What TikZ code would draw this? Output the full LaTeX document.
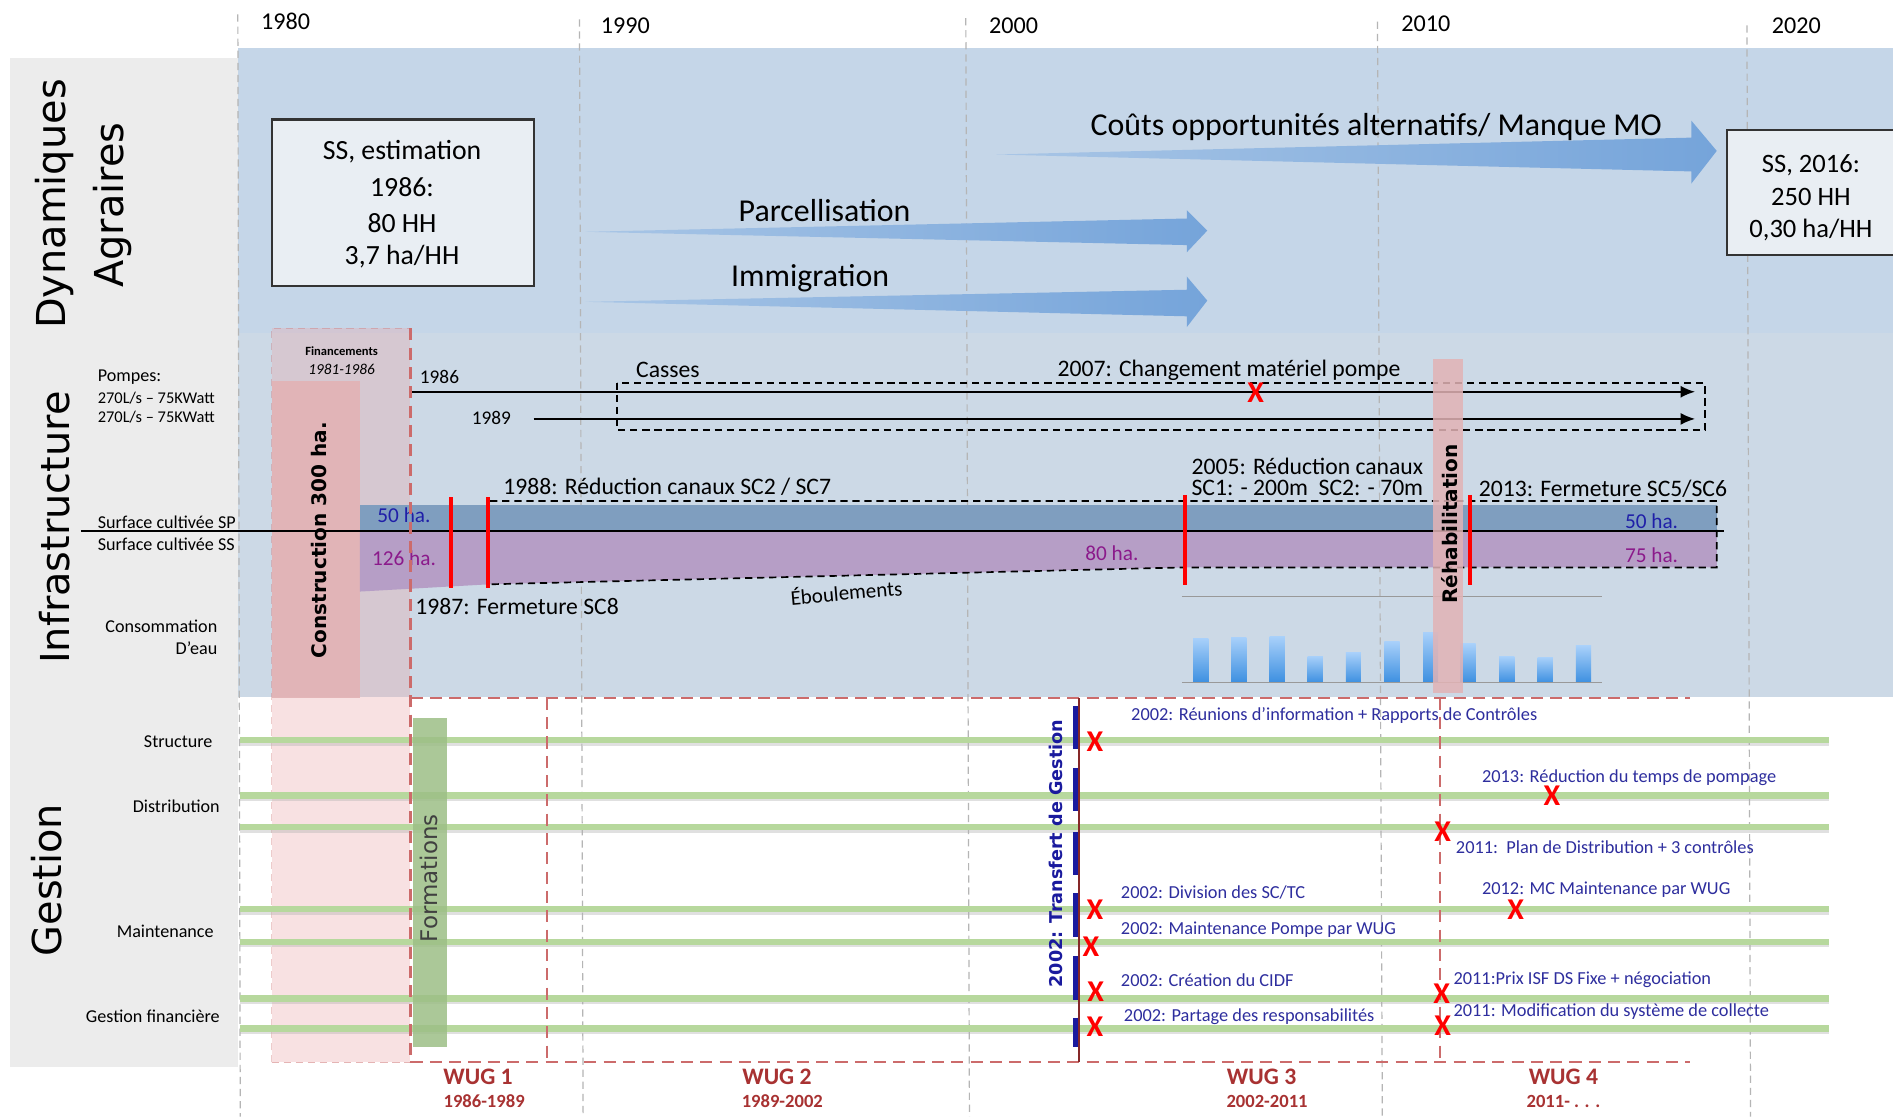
\documentclass[tikz,border=0pt]{standalone}
\usepackage{fontspec}
\setmainfont{Carlito}
\newfontfamily\gothic{DejaVu Sans}
\usetikzlibrary{arrows.meta}

\definecolor{bgtop}{HTML}{C5D6E8}
\definecolor{bgmid}{HTML}{CCD9E6}
\definecolor{panel}{HTML}{ECECEC}
\definecolor{gridc}{HTML}{B5B5B5}
\definecolor{arrowblue}{HTML}{75A4DA}
\definecolor{arrowlight}{HTML}{A9C6E6}
\definecolor{boxfill}{HTML}{E9EEF3}
\definecolor{boxline}{HTML}{333333}
\definecolor{pinkc}{HTML}{E2B3B5}
\definecolor{pinklight}{HTML}{EBAAAC}
\definecolor{spband}{HTML}{7F9EBF}
\definecolor{ssband}{HTML}{B69EC6}
\definecolor{spblue}{HTML}{1F1FA8}
\definecolor{sspurple}{HTML}{8B1A8B}
\definecolor{greenline}{HTML}{B7D89D}
\definecolor{formgreen}{HTML}{9DBF86}
\definecolor{wugred}{HTML}{CC6B6B}
\definecolor{wugtext}{HTML}{A83232}
\definecolor{annblue}{HTML}{2E2E9E}
\definecolor{trblue}{HTML}{1A1A9E}
\definecolor{bartop}{HTML}{A8D0FA}
\definecolor{barbot}{HTML}{3C8FE0}

\begin{document}
\begin{tikzpicture}[x=0.5pt,y=-0.5pt,
  every node/.style={inner sep=0pt, outer sep=0pt},
  yr/.style={font=\fontsize{10}{12}\selectfont},
  sect/.style={font=\gothic\fontsize{16.5}{19}\selectfont, rotate=90},
  boxt/.style={font=\fontsize{11.5}{14}\selectfont},
  arrt/.style={font=\fontsize{13.2}{16}\selectfont},
  evt/.style={font=\fontsize{9.8}{12}\selectfont},
  sidelbl/.style={font=\fontsize{7.5}{9}\selectfont},
  pumplbl/.style={font=\fontsize{6.8}{8}\selectfont, anchor=west},
  halbl/.style={font=\fontsize{8.8}{10}\selectfont},
  ann/.style={font=\fontsize{7.6}{9}\selectfont, text=annblue, anchor=west},
  xmark/.style={font=\bfseries\fontsize{12.5}{14}\selectfont, text=red},
  wugl/.style={font=\bfseries\fontsize{9.8}{12}\selectfont, text=wugtext},
  wugy/.style={font=\bfseries\fontsize{7.7}{9}\selectfont, text=wugtext},
  gridl/.style={gridc, dash pattern=on 3pt off 2pt, line width=0.5pt},
  redbar/.style={red, line width=1.6pt},
  bandedge/.style={black, dash pattern=on 3pt off 2pt, line width=0.7pt},
  wugline/.style={wugred, dash pattern=on 5pt off 3pt, line width=0.9pt},
  gline/.style={greenline, line width=2.6pt},
  gshadow/.style={black!30, line width=2.6pt, opacity=0.4},
  trbar/.style={trblue, line width=2pt},
  pumpline/.style={black, line width=0.7pt, -{Latex[length=6pt,width=5pt]}},
  cbar/.style={top color=bartop, bottom color=barbot, draw=none},
  flow/.style={left color=arrowlight, right color=arrowblue, draw=none},
]
\useasboundingbox (0,0) rectangle (1568,925);
\fill[white] (0,0) rectangle (1568,925);

% ---------- backgrounds ----------
\fill[panel] (8,48) rectangle (197,884);
\fill[bgtop] (197,40) rectangle (1568,276);
\fill[bgmid] (197,276) rectangle (1568,577);

% ---------- decade grid ----------
\draw[gridl] (197,12) -- (199,925);
\draw[gridl] (480,16) -- (483,925);
\draw[gridl] (800,15) -- (803,925);
\draw[gridl] (1141,18) -- (1145,925);
\draw[gridl] (1447,21) -- (1450,925);
\node[yr] (y1980) at (236.5,18) {1980};
\node[yr] (y1990) at (518,21) {1990};
\node[yr] (y2000) at (839.5,21.5) {2000};
\node[yr] (y2010) at (1181,20) {2010};
\node[yr] (y2020) at (1488,21.5) {2020};

% ---------- section titles ----------
\node[sect] (tdyn) at (45,169) {Dynamiques};
\node[sect] (tagr) at (93,170) {Agraires};
\node[sect] (tinf) at (45,437) {Infrastructure};
\node[sect] (tges) at (39,729) {Gestion};

% ---------- agrarian dynamics ----------
\node[draw=boxline, fill=boxfill, line width=0.9pt, minimum width=108.25pt, minimum height=69pt] (ss86) at (333.75,168) {};
\node[boxt] (ss86a) at (333,126) {SS, estimation};
\node[boxt] (ss86b) at (333,154.6) {1986:};
\node[boxt] (ss86c) at (333,185) {80 HH};
\node[boxt] (ss86d) at (333,212.6) {3,7 ha/HH};

\fill[boxfill] (1430.5,108) rectangle (1568,211);
\draw[boxline, line width=0.9pt] (1568,108) -- (1430.5,108) -- (1430.5,211) -- (1568,211);
\node[boxt, font=\fontsize{11}{13}\selectfont] (ss16a) at (1500,136.7) {SS, 2016:};
\node[boxt, font=\fontsize{11}{13}\selectfont] (ss16b) at (1500,163) {250 HH};
\node[boxt, font=\fontsize{11}{13}\selectfont] (ss16c) at (1500,190.5) {0,30 ha/HH};

\path[flow] (825,128) -- (1401,114) -- (1401,100) -- (1422,125) -- (1401,152) -- (1401,142) -- cycle;
\path[flow] (485,192) -- (983,181) -- (983,174) -- (1000,191) -- (983,209) -- (983,203) -- cycle;
\path[flow] (485,250) -- (983,240) -- (983,229) -- (1000,249) -- (983,271) -- (983,262) -- cycle;
\node[arrt] (tcouts) at (1140,105) {Coûts opportunités alternatifs/ Manque MO};
\node[arrt] (tparc) at (683,174.5) {Parcellisation};
\node[arrt] (timm) at (671,230.5) {Immigration};

% ---------- funding / construction column ----------
\fill[pinklight, opacity=0.35] (225,272) rectangle (340,880);
\draw[wugred, opacity=0.35, dash pattern=on 3pt off 2pt, line width=0.6pt] (225,880) -- (225,272) -- (340,272);
\draw[wugred, opacity=0.5, dash pattern=on 3pt off 2pt, line width=0.6pt] (225,880) -- (340,880);
\fill[pinkc, opacity=0.92] (225,316) rectangle (298,578);
\node[font=\bfseries\fontsize{5.2}{6}\selectfont] (tfin) at (283,290.5) {Financements};
\node[font=\itshape\fontsize{6.3}{7}\selectfont] (tfiny) at (283,305.6) {1981-1986};
\node[font=\gothic\bfseries\fontsize{8.3}{10}\selectfont, rotate=90] (tcons) at (264,447.5) {Construction 300 ha.};

% ---------- pumps ----------
\node[pumplbl, font=\fontsize{7.5}{9}\selectfont] (tpomp) at (81,312) {Pompes:};
\node[pumplbl] (tp1) at (81,329.4) {270L/s – 75KWatt};
\node[pumplbl] (tp2) at (81,345.6) {270L/s – 75KWatt};
\node[font=\fontsize{8}{10}\selectfont] (t1986) at (364,312) {1986};
\node[font=\fontsize{8}{10}\selectfont] (t1989) at (407,346) {1989};
\coordinate (p1s) at (340,324.5);
\coordinate (p1e) at (1404,324.5);
\coordinate (p2s) at (442,347);
\coordinate (p2e) at (1404,347);
\draw[pumpline] (p1s) -- (p1e);
\draw[pumpline] (p2s) -- (p2e);
\draw[bandedge] (511,317) rectangle (1412,356);
\node[evt, anchor=west] (tcasses) at (527,306.5) {Casses};
\node[evt, anchor=west] (t2007) at (876,306.5) {2007: Changement matériel pompe};
\node[xmark] (xpump) at (1040,325) {X};

% ---------- cultivated surfaces ----------
\fill[spband] (298,418) rectangle (1422,440);
\fill[ssband] (298,440) -- (1422,440) -- (1422,470) -- (980,470) -- (405,484) -- (298,490) -- cycle;
\draw[bandedge] (405,484) -- (405,415) -- (1422,415) -- (1422,470) -- (980,470) -- cycle;
\draw[black, line width=0.7pt] (67,440) -- (1428,440);
\node[sidelbl, anchor=west] (tsp) at (81,433) {Surface cultivée SP};
\node[sidelbl, anchor=west] (tss) at (81,450.6) {Surface cultivée SS};
\node[halbl, text=spblue] (ha50a) at (334.6,426.6) {50 ha.};
\node[halbl, text=sspurple] (ha126) at (334.6,462.4) {126 ha.};
\node[halbl, text=sspurple] (ha80) at (921,458) {80 ha.};
\node[halbl, text=spblue] (ha50b) at (1368,432) {50 ha.};
\node[halbl, text=sspurple] (ha75) at (1368,459.7) {75 ha.};
\draw[redbar] (373.5,412) -- (373.5,487);
\draw[redbar] (404.5,412) -- (404.5,487);
\draw[redbar] (981.5,410) -- (981.5,484.5);
\node[evt, anchor=west] (t1988) at (417,403) {1988: Réduction canaux SC2 / SC7};
\node[evt, anchor=west] (t1987) at (344,502.5) {1987: Fermeture SC8};
\node[font=\fontsize{8.7}{10}\selectfont, rotate=5] (teboul) at (701,490) {Éboulements};
\node[font=\fontsize{9.8}{8.3}\selectfont, align=left, anchor=west] (t2005) at (987,395) {2005: Réduction canaux\\SC1: - 200m\ \ SC2: - 70m};
\node[evt, anchor=west] (t2013) at (1225,405) {2013: Fermeture SC5/SC6};

% ---------- water consumption ----------
\node[sidelbl, anchor=east] (tcons1) at (180,519) {Consommation};
\node[sidelbl, anchor=east] (tcons2) at (180,537) {D’eau};
\draw[gray!80, line width=0.6pt] (979,494.2) -- (1327,494.2);
\foreach \bx/\bt in {994.5/528.7, 1026/527.9, 1058/527.4, 1089.5/543.4, 1121/540.6, 1153/531.5, 1185/523.8, 1216/533.4, 1248/543.9, 1280/544.5, 1311.7/535}
  \path[cbar] (\bx-6.3,\bt) rectangle (\bx+6.3,565.5);
\draw[gray!80, line width=0.6pt] (979,565.5) -- (1327,565.5);

% ---------- rehabilitation ----------
\fill[pinkc, opacity=0.85] (1187,297) rectangle (1212,574);
\node[font=\gothic\bfseries\fontsize{8.3}{10}\selectfont, rotate=90] (trehab) at (1200.5,434) {Réhabilitation};
\draw[redbar] (1217.5,410) -- (1217.5,484.5);

% ---------- management lines ----------
\foreach \gy in {613,659,685,753,780,827,852}{
  \draw[gshadow] (199,\gy+2.2) -- (1515,\gy+2.2);
  \draw[gline] (199,\gy) -- (1515,\gy);
}
\node[sidelbl, anchor=east] (tstruc) at (176,614.6) {Structure};
\node[sidelbl, anchor=east] (tdist) at (182,668) {Distribution};
\node[sidelbl, anchor=east] (tmaint) at (177,771.7) {Maintenance};
\node[sidelbl, anchor=east] (tfinan) at (182,842) {Gestion financière};

\fill[formgreen, opacity=0.85] (342,595) rectangle (370,867);
\node[font=\gothic\fontsize{9.5}{11}\selectfont, text=black!75, rotate=90] (tform) at (355.5,727.5) {Formations};

% water user groups
\draw[wugline] (340,578) -- (1400,578);
\draw[wugline] (340,880) -- (1400,880);
\draw[wugline] (340,272) -- (340,880);
\draw[wugline] (453,578) -- (453,880);
\draw[wugline] (1193,578) -- (1193,880);
\draw[wugtext!80!black, line width=0.7pt] (893.5,578) -- (893.5,880);
\node[wugl] (wug1) at (396,891.8) {WUG 1};
\node[wugy] (wug1y) at (401,911.7) {1986-1989};
\node[wugl] (wug2) at (643.6,891.8) {WUG 2};
\node[wugy] (wug2y) at (648,912) {1989-2002};
\node[wugl] (wug3) at (1045,891.8) {WUG 3};
\node[wugy] (wug3y) at (1049.5,912) {2002-2011};
\node[wugl] (wug4) at (1295,891.8) {WUG 4};
\node[wugy] (wug4y) at (1295,912) {2011- . . .};

% management transfer
\foreach \ya/\yb in {585/620, 636/672, 689/725, 740/776, 792/828, 843/867}
  \draw[trbar] (891,\ya) -- (891,\yb);
\node[font=\gothic\bfseries\fontsize{7.3}{9}\selectfont, text=trblue, rotate=90] (ttransf) at (875,707) {2002: Transfert de Gestion};

% events
\node[xmark] (x1) at (907,614.3) {X};
\node[xmark] (x2) at (907,753.7) {X};
\node[xmark] (x3) at (903.7,784) {X};
\node[xmark] (x4) at (907.6,821.4) {X};
\node[xmark] (x5) at (907,850.4) {X};
\node[xmark] (x6) at (1285.5,659.5) {X};
\node[xmark] (x7) at (1195,688.9) {X};
\node[xmark] (x8) at (1255.4,753.7) {X};
\node[xmark] (x9) at (1194.2,823) {X};
\node[xmark] (x10) at (1195,850) {X};

\node[ann] (a1) at (937,593) {2002: Réunions d’information + Rapports de Contrôles};
\node[ann] (a2) at (1227.6,644) {2013: Réduction du temps de pompage};
\node[ann] (a3) at (1206,702) {2011:\ \ Plan de Distribution + 3 contrôles};
\node[ann] (a4) at (928.5,739) {2002: Division des SC/TC};
\node[ann] (a5) at (1227.6,737) {2012: MC Maintenance par WUG};
\node[ann] (a6) at (928.5,770) {2002: Maintenance Pompe par WUG};
\node[ann] (a7) at (928.5,811.7) {2002: Création du CIDF};
\node[ann] (a8) at (1204,811.7) {2011:Prix ISF DS Fixe + négociation};
\node[ann] (a9) at (931,842) {2002: Partage des responsabilités};
\node[ann] (a10) at (1204,838) {2011: Modification du système de collecte};
\end{tikzpicture}
\end{document}
